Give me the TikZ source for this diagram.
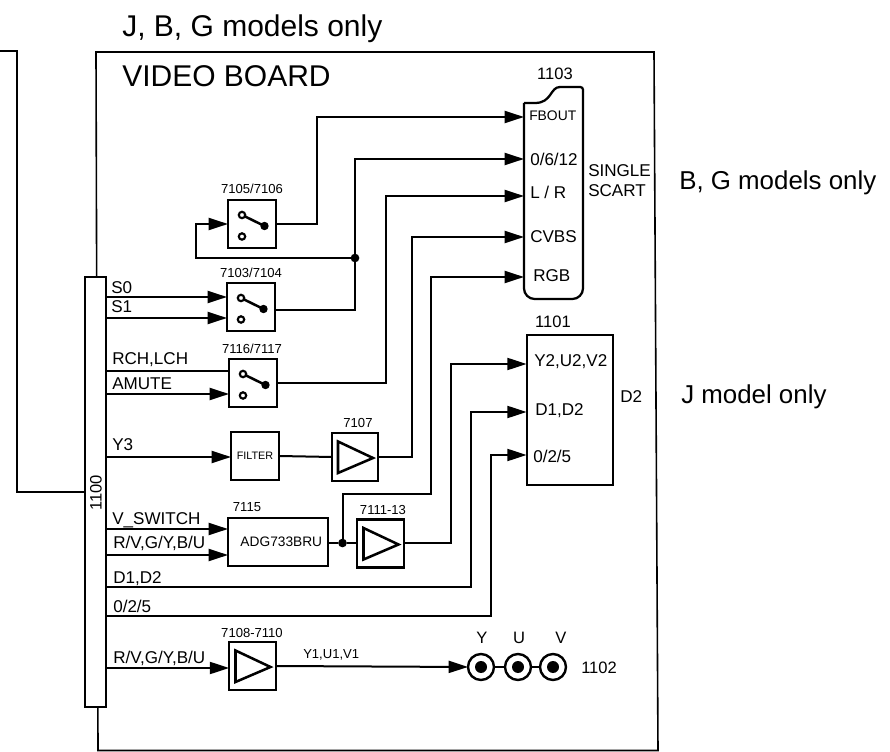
\documentclass[tikz,border=0pt]{standalone}
\usepackage{fontspec}
\setmainfont{Liberation Sans}
\usetikzlibrary{arrows.meta}

\begin{document}
\begin{tikzpicture}[
  x=0.75pt, y=-0.75pt,
  blk/.style={draw, line width=1.7pt, inner sep=0pt, outer sep=0pt, align=center, minimum width=36pt, minimum height=36pt, font=\fontsize{8.1}{10}\selectfont},
  sig/.style={line width=1.5pt},
  thin line/.style={line width=1.2pt},
  dotn/.style={circle, fill, inner sep=0pt, minimum size=6.5pt, outer sep=0pt},
  jack/.style={circle, draw, line width=1.8pt, inner sep=0pt, minimum size=19.5pt, outer sep=0pt},
  big/.style={font=\fontsize{22.5}{26}\selectfont, inner sep=0pt, anchor=base west},
  mid/.style={font=\fontsize{19.4}{23}\selectfont, inner sep=0pt, anchor=base west},
  lab/.style={font=\fontsize{12.8}{15}\selectfont, inner sep=0pt, anchor=base west},
  num/.style={font=\fontsize{9.8}{12}\selectfont, inner sep=0pt, anchor=base},
  pinno/.style={font=\fontsize{12.4}{15}\selectfont, inner sep=0pt, anchor=base},
  >={Triangle[length=14.5pt,width=9pt]}
]
\useasboundingbox (0,0) rectangle (890,752);
\coordinate (bdA) at (96,52);
\coordinate (bdB) at (654,52);
\coordinate (bdC) at (658,750.5);
\coordinate (bdD) at (98,750.5);
\draw[thin line] (bdA) -- (bdB) -- (bdC) -- (bdD) -- cycle;
\coordinate (ext) at (0,51);
\node[draw, fill=white, line width=1.7pt, inner sep=0pt, outer sep=0pt, minimum width=16pt, minimum height=322.5pt] (conn) at (95.5,492) {};
\node[rotate=90, font=\fontsize{12.4}{15}\selectfont, inner sep=0pt] (conntxt) at (96,493) {1100};
\draw[thin line] (ext) -- (17,51) -- (17,492) -- (conn.west |- 0,492);

\node[big] (jbg) at (122,37) {J, B, G models only};
\node[big] (vb) at (122,87) {VIDEO BOARD};
\node[mid] (bg) at (679,190) {B, G models only};
\node[mid] (jm) at (681,404) {J model only};

\node[blk] (sw1) at (252,224) {};
\node[blk] (sw2) at (251,307) {};
\node[blk] (sw3) at (253,383) {};
\node[blk] (filt) at (255,456) {FILTER};
\node[blk, minimum width=34.5pt] (amp1) at (355,457) {};
\node[blk, minimum width=75pt, font=\fontsize{10.3}{12}\selectfont] (adg) at (278,542) {\hspace{5pt}ADG733BRU};
\node[blk, minimum width=35pt] (amp2) at (380.5,543.5) {};
\node[blk, minimum width=35pt] (amp3) at (252.5,666) {};
\node[blk, minimum width=65pt, minimum height=112.5pt] (d2) at (570,410) {};
\node[minimum width=44.25pt, minimum height=147pt, inner sep=0pt, outer sep=0pt] (scart) at (553.5,201) {};
\draw[line width=1.7pt, rounded corners=2pt] (583,92) -- (583,87) -- (560,87);
\draw[line width=1.7pt] (560,87) .. controls (550,87) and (552,103) .. (535,103) -- (524,103);
\draw[line width=1.7pt, rounded corners=8pt] (524,103) -- (524,299) -- (583,299) -- (583,92);

\foreach \n in {sw1,sw2,sw3} {
  \draw[line width=1.9pt] ([shift={(-10,-9)}]\n.center) -- ([shift={(12.5,2)}]\n.center);
  \fill ([shift={(12.5,2)}]\n.center) circle (4.2);
  \draw[line width=1.6pt, fill=white] ([shift={(-10,-9)}]\n.center) circle (3.2);
  \draw[line width=1.6pt, fill=white] ([shift={(-10,12.5)}]\n.center) circle (3.2);
}
\foreach \n in {amp1,amp2,amp3} {
  \draw[line width=1.9pt] ([shift={(-17,-15.5)}]\n.center) -- ([shift={(18,1)}]\n.center) -- ([shift={(-17,16)}]\n.center) -- cycle;
}

\node[dotn] (jn1) at (355,258) {};
\node[dotn] (jn2) at (342.5,543) {};
\draw[sig,->] (sw1.east) -- ++(41,0) |- (scart.west |- 0,117);
\draw[sig,->] (sw2.east |- 0,310) -| (jn1) |- (scart.west |- 0,159);
\draw[sig,->] (jn1) -| (196,224) -- (sw1.west);
\draw[sig,->] (sw3.east) -| (386,196) -- (scart.west |- 0,196);
\draw[sig] (filt.east) -- (amp1.west);
\draw[sig,->] (amp1.east) -| (412,237) -- (scart.west |- 0,237);
\draw[sig,->] (jn2) |- (431,494) |- (scart.west |- 0,277);
\draw[sig] (adg.east |- jn2) -- (jn2) -- (amp2.west |- jn2);
\draw[sig,->] (amp2.east) -| (451,364) -- (d2.west |- 0,364);
\draw[sig,->] (conn.east |- 0,587) -| (471,412) -- (d2.west |- 0,412);
\draw[sig,->] (conn.east |- 0,616) -| (491,455) -- (d2.west |- 0,455);
\draw[sig,->] (conn.east |- 0,297) -- (sw2.west |- 0,297);
\draw[sig,->] (conn.east |- 0,318) -- (sw2.west |- 0,318);
\draw[sig] (conn.east |- 0,371) -- (sw3.west |- 0,371);
\draw[sig,->] (conn.east |- 0,394) -- (sw3.west |- 0,394);
\draw[sig,->] (conn.east |- 0,457) -- (filt.west |- 0,457);
\draw[sig,->] (conn.east |- 0,529) -- (adg.west |- 0,529);
\draw[sig,->] (conn.east |- 0,555) -- (adg.west |- 0,555);
\draw[sig,->] (conn.east |- 0,668) -- (amp3.west |- 0,668);

\node[jack] (jy) at (481,667) {};
\node[jack] (ju) at (518,667) {};
\node[jack] (jv) at (553,667) {};
\draw[sig,->] (amp3.east) -- (jy.west);
\draw[sig] (jy.east) -- (ju.west);
\draw[sig] (ju.east) -- (jv.west);
\foreach \n in {jy,ju,jv} {
  \fill (\n) circle (6);
}

\node[pinno] (n1103) at (555,80) {1103};
\node[lab, font=\fontsize{10.4}{12}\selectfont] (fbout) at (529,121) {FBOUT};
\node[lab] (p0612) at (530,166) {0/6/12};
\node[lab] (plr) at (530,199) {L / R};
\node[lab] (pcvbs) at (530,243) {CVBS};
\node[lab] (prgb) at (533,282) {RGB};
\node[lab] (sgl) at (588,177) {SINGLE};
\node[lab] (sct) at (588,197) {SCART};
\node[num] (n7105) at (252,194) {7105/7106};
\node[num] (n7103) at (251,278) {7103/7104};
\node[num] (n7116) at (252,354) {7116/7117};
\node[num] (n7107) at (358,428) {7107};
\node[num] (n7115) at (247,512) {7115};
\node[num] (n7111) at (383,515) {7111-13};
\node[num] (n7108) at (252,637) {7108-7110};
\node[lab] (s0) at (111,294) {S0};
\node[lab] (s1) at (111,313) {S1};
\node[lab] (rch) at (112,365) {RCH,LCH};
\node[lab] (amute) at (112,390) {AMUTE};
\node[lab] (y3) at (112,451) {Y3};
\node[lab] (vsw) at (112,524) {V\_SWITCH};
\node[lab] (rgb1) at (113,549) {R/V,G/Y,B/U};
\node[lab] (d1d2) at (113,583) {D1,D2};
\node[lab] (z025) at (113,612) {0/2/5};
\node[lab] (rgb2) at (113,663) {R/V,G/Y,B/U};
\node[num, anchor=base west] (y1) at (303,658) {Y1,U1,V1};
\node[pinno] (n1101) at (553,328) {1101};
\node[lab] (pd2) at (620,403) {D2};
\node[lab] (py2) at (534,367) {Y2,U2,V2};
\node[lab] (pd1) at (535,416) {D1,D2};
\node[lab] (p025) at (533,463) {0/2/5};
\node[pinno] (ly) at (482,643) {Y};
\node[pinno] (lu) at (519,643) {U};
\node[pinno] (lv) at (561,643) {V};
\node[pinno, anchor=base west] (n1102) at (581,673) {1102};
\end{tikzpicture}
\end{document}
